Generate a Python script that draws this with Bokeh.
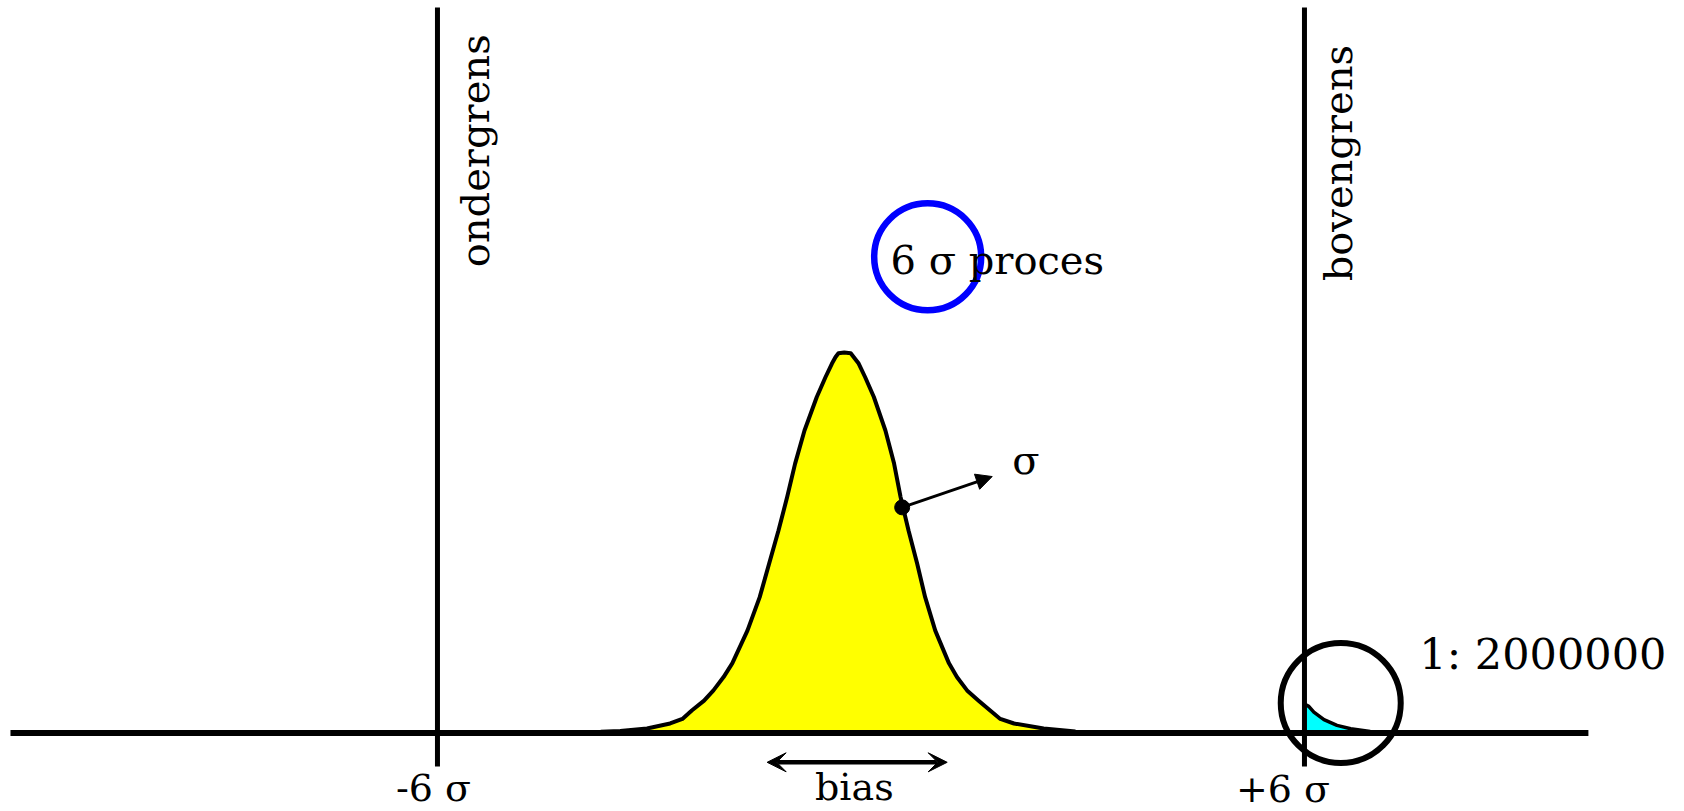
from math import pi
from bokeh.plotting import figure
from bokeh.models import Range1d, Label, Arrow, VeeHead, NormalHead
from bokeh.embed import file_html
from bokeh.resources import INLINE

# ---- data (x in sigma units, y relative to peak height) ----
curve_x = [-3.74, -3.47, -3.10, -2.78, -2.61, -2.48, -2.31, -2.18, -2.04, -1.92,
           -1.71, -1.54, -1.41, -1.28, -1.16, -1.05, -0.92, -0.75, -0.63, -0.54,
           -0.49, -0.45, -0.37, -0.28, -0.24, -0.17, -0.08, 0.04, 0.20, 0.32,
           0.41, 0.52, 0.64, 0.75, 0.89, 1.08, 1.19, 1.33, 1.49, 1.65,
           1.79, 1.98, 2.39, 2.83]
curve_y = [0.003, 0.005, 0.012, 0.025, 0.037, 0.059, 0.085, 0.112, 0.147, 0.183,
           0.269, 0.357, 0.445, 0.532, 0.620, 0.708, 0.795, 0.883, 0.935, 0.971,
           0.988, 0.998, 1.0, 0.998, 0.988, 0.971, 0.935, 0.883, 0.795, 0.708,
           0.620, 0.532, 0.445, 0.357, 0.269, 0.183, 0.147, 0.112, 0.085, 0.059,
           0.037, 0.025, 0.012, 0.004]

tail_x = [6.00, 6.06, 6.13, 6.27, 6.45, 6.64, 6.91, 7.42]
tail_y = [0.076, 0.070, 0.055, 0.035, 0.020, 0.011, 0.004, 0.0]

limits = [-6, 6]
limit_names = ["ondergrens", "bovengrens"]
limit_ticks = ["-6 σ", "+6 σ"]
axis_span = [-11.91, 9.93]
limit_line_span = [-0.088, 1.907]

sigma_point = [0.432, 0.593]
sigma_arrow_end = [1.678, 0.674]
bias_span = [-1.437, 1.055]
bias_y = -0.077

process_label = "6 σ proces"
ratio_label = "1: 2000000"
sigma_label = "σ"
bias_label = "bias"

FONT = "DejaVu Serif"

p = figure(width=1684, height=811, output_backend="svg", toolbar_location=None,
           x_range=Range1d(-12.048, 11.260), y_range=Range1d(-0.2063, 1.9251),
           x_axis_location=None, y_axis_location=None,
           min_border=0, min_border_left=0, min_border_right=0,
           min_border_top=0, min_border_bottom=0)
p.grid.visible = False
p.outline_line_color = None
p.background_fill_color = "white"
p.border_fill_color = "white"

# yellow distribution
p.patch(curve_x, curve_y, fill_color="#FFFF00", line_color=None)
p.line(curve_x, curve_y, line_color="black", line_width=4, line_join="round")

# cyan tail beyond upper limit
p.patch(tail_x + [tail_x[0]], tail_y + [0.0], fill_color="#00FFFF", line_color=None)
p.line(tail_x, tail_y, line_color="black", line_width=3.5, line_join="round")

# baseline
p.line(axis_span, [0, 0], line_color="black", line_width=6)

# limit lines
for lx in limits:
    p.line([lx, lx], limit_line_span, line_color="black", line_width=5)

# sigma point and arrow
p.add_layout(Arrow(x_start=sigma_point[0], y_start=sigma_point[1],
                   x_end=sigma_arrow_end[0], y_end=sigma_arrow_end[1],
                   line_color="black", line_width=3,
                   end=NormalHead(size=16, fill_color="black", line_color="black", line_width=1)))
p.scatter([sigma_point[0]], [sigma_point[1]], marker="circle", size=15,
          fill_color="black", line_color="black")

# bias arrow
p.add_layout(Arrow(x_start=bias_span[0], y_start=bias_y, x_end=bias_span[1], y_end=bias_y,
                   line_color="black", line_width=4.5,
                   start=VeeHead(size=19, fill_color="black", line_color="black", line_width=1),
                   end=VeeHead(size=19, fill_color="black", line_color="black", line_width=1)))

def lab(x, y, text, align="left", baseline="alphabetic", angle=0.0, size="40px"):
    p.add_layout(Label(x=x, y=y, text=text, text_font=FONT, text_font_size=size,
                       text_color="black", text_align=align, text_baseline=baseline,
                       angle=angle))

lab(-5.484, 1.224, limit_names[0], angle=pi / 2)
lab(6.466, 1.187, limit_names[1], angle=pi / 2)
lab(-6.055, -0.145, limit_ticks[0], align="center", size="38px")
lab(5.702, -0.1477, limit_ticks[1], align="center", size="38px")
lab(-0.23, -0.1425, bias_label, align="center", size="38px")
lab(2.145, 0.718, sigma_label, align="center")
lab(0.27, 1.244, process_label)
lab(7.59, 0.208, ratio_label, size="43px")

# circles
p.scatter([6.502], [0.0788], marker="circle", size=120, fill_color=None,
          line_color="black", line_width=6)
p.scatter([0.785], [1.2515], marker="circle", size=107, fill_color=None,
          line_color="#0000FF", line_width=6.5)

open("out.html", "w").write(file_html(p, INLINE))
